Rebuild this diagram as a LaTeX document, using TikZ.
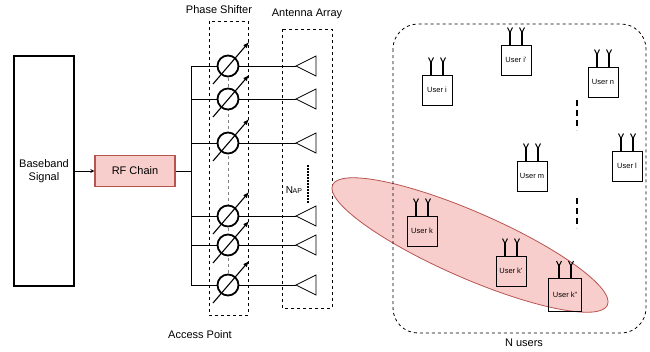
\documentclass[tikz,border=0pt]{standalone}
\usepackage{fontspec}
\setmainfont{Liberation Sans}
\definecolor{rfpink}{HTML}{F8CECC}
\definecolor{rfred}{HTML}{B85450}
\tikzset{
  lbl/.style={font=\fontsize{11}{13}\selectfont},
  userbox/.style={draw,line width=1pt,minimum size=30pt,inner sep=0pt,font=\fontsize{7.5}{9}\selectfont},
  shifter/.style={circle,draw,line width=1.8pt,fill=white,minimum size=21pt,inner sep=0pt}
}

\begin{document}
\begin{tikzpicture}[x=1pt,y=-1pt,line width=0.8pt]
\useasboundingbox (0,0) rectangle (650,351);

\node[draw,line width=1.4pt,minimum width=60pt,minimum height=230pt,align=center,lbl] (bb) at (44,171) {Baseband\\Signal};
\node[draw=rfred,fill=rfpink,line width=1.2pt,minimum width=80pt,minimum height=31pt,lbl] (rf) at (135,171) {RF Chain};
\draw[thick,-stealth] (bb) -- (rf);
\coordinate (bus) at (191,171);
\draw (rf) -- (bus);
\draw (191,66) -- (191,285);

\draw[dashed] (209,21) rectangle (248,315);
\node[lbl] (pslabel) at (219,10) {Phase Shifter};
\draw[dashed] (282,29) rectangle (332,308);
\node[lbl] (aalabel) at (307,14) {Antenna Array};
\draw[gray,dashed] (228,66) -- (228,285);

\foreach \y [count=\i] in {66,99,143,216,245,285}{
\node[shifter] (ps\i) at (228,\y) {};
\coordinate (ant\i) at (296,\y);
\draw (191,\y) -- (ps\i);
\draw (ps\i) -- (ant\i);
\draw (ant\i) -- ++(20,-10) -- ++(0,20) -- cycle;
\draw[line width=1.1pt,-latex] ([shift={(-15,18)}]ps\i.center) -- ++(36,-42);}

\node (nap) at (294,190) {N\kern-0.5pt{\fontsize{7}{8}\selectfont AP}};
\draw[line width=2.4pt,dash pattern=on 2pt off 1pt] (308,165) -- (308,203);
\node[lbl] (aplabel) at (200,335) {Access Point};

\draw[rfred,fill=rfpink,rotate around={-23.6:(470,245)}] (470,245) ellipse [x radius=150,y radius=33];
\draw[dashed,rounded corners=25pt] (393,24) rectangle (646,333);
\node[lbl] (nlabel) at (524,343) {N users};

\foreach \name/\x/\y/\t in {ui/437/90/User i,uip/516/60/User i',un/603/82/User n,um/532/176/User m,ul/627/166/User l,uk/422/231/User k,ukp/511/271/User k'}{
\node[userbox] (\name) at (\x,\y) {\t};}
\node[userbox,minimum size=33pt] (ukpp) at (565,295) {User k''};

\foreach \name in {ui,uip,un,um,ul,uk,ukp,ukpp}{
\foreach \dx in {-6,6}{
\draw[line width=1.2pt] ([xshift=\dx]\name.north) -- ++(0,-14);
\draw[line width=1pt] ([shift={(\dx-2.5,-17)}]\name.north) -- ([shift={(\dx,-12)}]\name.north) -- ([shift={(\dx+2.5,-17)}]\name.north);}}

\draw[line width=1.6pt,dash pattern=on 6pt off 4pt] (577,100) -- (577,130);
\draw[line width=1.6pt,dash pattern=on 6pt off 4pt] (577,198) -- (577,228);
\end{tikzpicture}
\end{document}
